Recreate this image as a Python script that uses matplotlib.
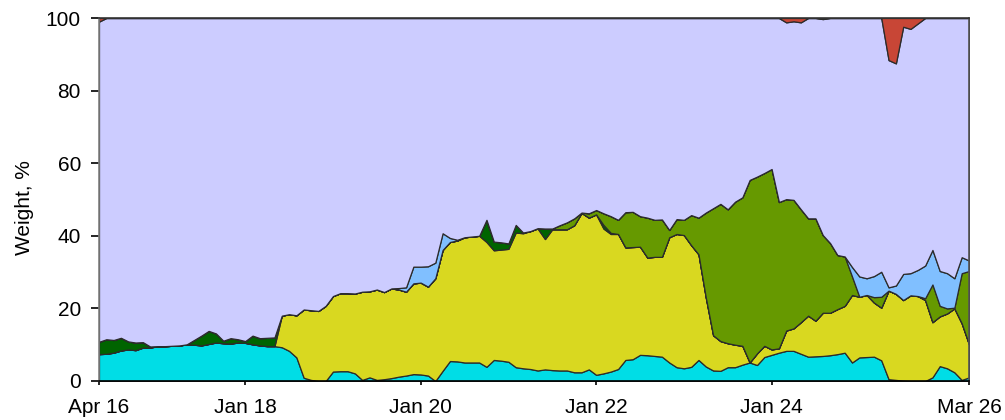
import numpy as np
import matplotlib
matplotlib.use('Agg')
import matplotlib.pyplot as plt

# monthly samples Apr 16 .. Mar 26 (120 points)
tick_pos = [0, 20, 44, 68, 92, 119]
tick_lbl = ['Apr 16', 'Jan 18', 'Jan 20', 'Jan 22', 'Jan 24', 'Mar 26']

cyan = [7.4, 7.5, 7.8, 8.4, 8.7, 8.5, 9.2, 9.2, 9.6, 9.6,
        9.7, 9.8, 10.1, 10.0, 9.8, 10.2, 10.6, 10.4, 10.3, 10.6,
        10.5, 10.1, 9.8, 9.6, 9.6, 9.3, 8.3, 6.5, 0.9, 0.3,
        0.0, 0.0, 2.6, 2.7, 2.7, 2.1, 0.3, 1.0, 0.3, 0.5,
        0.8, 1.2, 1.5, 1.9, 1.8, 1.5, 0.0, 2.8, 5.5, 5.4,
        5.1, 5.1, 5.1, 3.9, 5.8, 5.6, 5.3, 3.8, 3.5, 3.3,
        2.9, 3.2, 3.0, 2.9, 2.9, 2.4, 2.4, 3.2, 1.7, 2.1,
        2.6, 3.3, 5.8, 6.0, 7.2, 7.1, 6.9, 6.7, 5.1, 3.8,
        3.5, 3.9, 5.8, 4.0, 2.9, 2.8, 3.8, 3.8, 4.5, 5.1,
        4.4, 6.6, 7.2, 7.8, 8.3, 8.3, 7.5, 6.7, 6.8, 6.9,
        7.1, 7.4, 7.8, 5.1, 6.5, 6.6, 6.7, 5.7, 0.5, 0.3,
        0.1, 0.0, 0.0, 0.0, 1.0, 4.1, 3.5, 2.4, 0.3, 1.0]

yellow = [0, 0, 0, 0, 0, 0, 0, 0, 0, 0,
          0, 0, 0, 0, 0, 0, 0, 0, 0, 0,
          0, 0, 0, 0, 0, 8.7, 10.1, 11.6, 18.8, 19.2,
          19.3, 20.7, 20.8, 21.5, 21.5, 22.0, 24.3, 23.7, 24.9, 24.0,
          24.7, 24.0, 23.1, 25.0, 25.3, 24.5, 28.3, 33.3, 32.8, 33.3,
          34.5, 34.7, 34.9, 34.4, 30.2, 30.6, 31.1, 37.1, 37.2, 38.0,
          39.1, 35.9, 38.8, 38.9, 38.9, 40.5, 43.9, 41.8, 44.2, 39.9,
          37.9, 37.2, 31.0, 30.9, 29.8, 26.9, 27.3, 27.5, 34.5, 36.7,
          36.7, 33.5, 29.1, 19.0, 9.7, 8.2, 6.6, 6.2, 5.2, 0.0,
          3.2, 3.1, 1.5, 1.2, 5.6, 6.2, 8.7, 11.3, 9.8, 11.9,
          11.7, 12.4, 12.9, 18.6, 16.7, 17.1, 14.9, 14.5, 24.4, 23.7,
          22.2, 23.6, 23.4, 22.3, 15.2, 13.7, 15.1, 17.6, 15.6, 9.1]

dkgreen = [3.4, 4.0, 3.5, 3.5, 2.2, 2.1, 1.5, 0.3, 0, 0,
           0, 0, 0, 1.3, 2.7, 3.6, 2.5, 0.7, 1.5, 0.9,
           0.5, 2.4, 2.0, 2.3, 2.4, 0, 0, 0, 0, 0,
           0, 0, 0, 0, 0, 0, 0, 0, 0, 0,
           0, 0, 0, 0, 0, 0, 0, 0, 0, 0,
           0, 0, 0, 6.1, 2.4, 2.0, 1.5, 2.1, 0.2, 0,
           0.1, 2.9, 0, 0, 0, 0, 0, 0, 0, 1.0,
           0.3, 0, 0, 0, 0, 0, 0, 0, 0, 0,
           0, 0, 0, 0, 0, 0, 0, 0, 0, 0,
           0, 0, 0, 0, 0, 0, 0, 0, 0, 0,
           0, 0, 0, 0, 0, 0, 0, 0, 0, 0,
           0, 0, 0, 0, 0, 0, 0, 0, 0, 0]

olive = [0, 0, 0, 0, 0, 0, 0, 0, 0, 0,
         0, 0, 0, 0, 0, 0, 0, 0, 0, 0,
         0, 0, 0, 0, 0, 0, 0, 0, 0, 0,
         0, 0, 0, 0, 0, 0, 0, 0, 0, 0,
         0, 0, 0, 0, 0, 0, 0, 0, 0, 0,
         0, 0, 0, 0, 0, 0, 0, 0, 0, 0,
         0, 0, 0.2, 1.1, 1.9, 1.9, 0.1, 1.2, 1.2, 3.2,
         4.6, 3.9, 9.7, 9.7, 8.4, 11.0, 10.2, 10.3, 2.0, 4.1,
         4.2, 8.3, 10.1, 23.4, 35.0, 37.8, 36.9, 39.4, 40.9, 50.3,
         48.7, 47.6, 49.7, 40.3, 36.2, 35.4, 31.1, 26.8, 28.2, 21.4,
         19.2, 14.9, 13.6, 5.1, 0, 0, 1.5, 3.0, 0, 0,
         0, 0, 0, 0.5, 10.4, 2.9, 1.4, 0.2, 13.8, 20.2]

ltblue = [0, 0, 0, 0, 0, 0, 0, 0, 0, 0,
          0, 0, 0, 0, 0, 0, 0, 0, 0, 0,
          0, 0, 0, 0, 0, 0, 0, 0, 0, 0,
          0, 0, 0, 0, 0, 0, 0, 0, 0, 0,
          0, 0.4, 1.2, 4.6, 4.4, 5.6, 4.3, 4.6, 1.1, 0.2,
          0, 0, 0, 0, 0, 0, 0, 0, 0, 0,
          0, 0, 0, 0, 0, 0, 0, 0, 0, 0,
          0, 0, 0, 0, 0, 0, 0, 0, 0, 0,
          0, 0, 0, 0, 0, 0, 0, 0, 0, 0,
          0, 0, 0, 0, 0, 0, 0, 0, 0, 0,
          0, 0, 0, 2.6, 5.6, 4.6, 5.8, 6.9, 0.9, 2.3,
          7.2, 6.1, 7.2, 9.0, 9.5, 9.6, 9.7, 8.1, 4.4, 2.9]

lavender = [88.2, 88.5, 88.7, 88.1, 89.1, 89.4, 89.3, 90.5, 90.4, 90.4,
            90.3, 90.2, 89.9, 88.7, 87.5, 86.2, 86.9, 88.9, 88.2, 88.5,
            89.0, 87.5, 88.2, 88.1, 88.0, 82.0, 81.6, 81.9, 80.3, 80.5,
            80.7, 79.3, 76.6, 75.8, 75.8, 75.9, 75.4, 75.3, 74.8, 75.5,
            74.5, 74.4, 74.2, 68.5, 68.5, 68.4, 67.4, 59.3, 60.6, 61.1,
            60.4, 60.2, 60.0, 55.6, 61.6, 61.8, 62.1, 57.0, 59.1, 58.7,
            57.9, 58.0, 58.0, 57.1, 56.3, 55.2, 53.6, 53.8, 52.9, 53.8,
            54.6, 55.6, 53.5, 53.4, 54.6, 55.0, 55.6, 55.5, 58.4, 55.4,
            55.6, 54.3, 55.0, 53.6, 52.4, 51.2, 52.7, 50.6, 49.4, 44.6,
            43.7, 42.7, 41.6, 50.7, 48.7, 49.2, 51.5, 55.2, 55.2, 59.5,
            62.0, 65.3, 65.7, 68.6, 71.2, 71.7, 71.1, 69.9, 62.6, 61.2,
            68.1, 67.3, 67.9, 68.2, 63.9, 69.7, 70.3, 71.7, 65.9, 66.8]

red = [1.0, 0, 0, 0, 0, 0, 0, 0, 0, 0,
       0, 0, 0, 0, 0, 0, 0, 0, 0, 0,
       0, 0, 0, 0, 0, 0, 0, 0, 0, 0,
       0, 0, 0, 0, 0, 0, 0, 0, 0, 0,
       0, 0, 0, 0, 0, 0, 0, 0, 0, 0,
       0, 0, 0, 0, 0, 0, 0, 0, 0, 0,
       0, 0, 0, 0, 0, 0, 0, 0, 0, 0,
       0, 0, 0, 0, 0, 0, 0, 0, 0, 0,
       0, 0, 0, 0, 0, 0, 0, 0, 0, 0,
       0, 0, 0, 0, 1.2, 0.9, 1.2, 0, 0, 0.3,
       0, 0, 0, 0, 0, 0, 0, 0, 11.6, 12.5,
       2.4, 3.0, 1.5, 0, 0, 0, 0, 0, 0, 0]

colors = ['#00DDE6', '#D9D820', '#006400', '#669900', '#80BFFF', '#CCCCFF', '#C84636']

plt.rcParams['font.family'] = ['Liberation Sans', 'DejaVu Sans']
plt.rcParams['font.size'] = 15

fig = plt.figure(figsize=(10.05, 4.2), dpi=100)
ax = fig.add_axes([99/1005, 1 - 381/420, 870/1005, 363/420])

x = np.arange(len(cyan))
ax.stackplot(x, cyan, yellow, dkgreen, olive, ltblue, lavender, red,
             colors=colors, edgecolor='#2b2b2b', linewidth=0.9)

ax.set_xlim(0, len(cyan) - 1)
ax.set_ylim(0, 100)
ax.set_yticks([0, 20, 40, 60, 80, 100])
ax.set_xticks(tick_pos)
ax.set_xticklabels(tick_lbl)
ax.tick_params(axis='y', length=6, width=1.2, pad=7)
ax.tick_params(axis='x', length=3, width=1.2, pad=9)

ax.spines['left'].set_color('#808080')
ax.spines['bottom'].set_color('black')
ax.spines['top'].set_color('#333333')
ax.spines['right'].set_color('#555555')
for s in ax.spines.values():
    s.set_linewidth(1.2)
ax.set_ylabel('Weight, %')
ax.yaxis.set_label_coords(-0.0745, 0.477)

plt.savefig('out.png', dpi=100)
